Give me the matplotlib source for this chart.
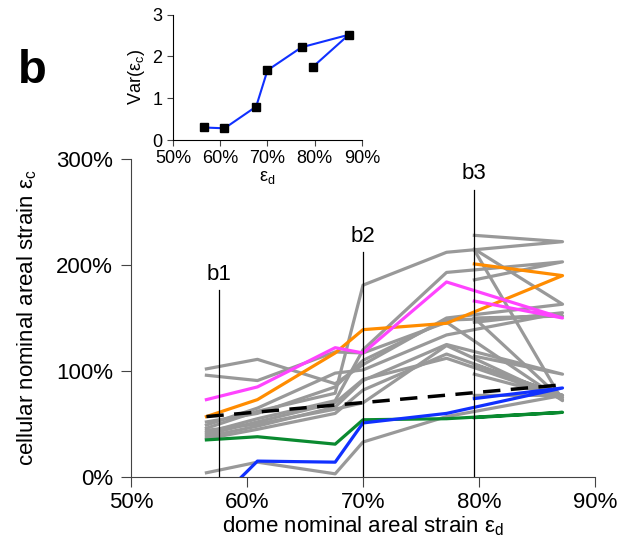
import numpy as np
import matplotlib
matplotlib.use('Agg')
import matplotlib.pyplot as plt

plt.rcParams['font.family'] = ['Liberation Sans', 'DejaVu Sans']
plt.rcParams['mathtext.default'] = 'regular'

# dome strain at each time point (in time order)
dome_strain = [56.5, 60.9, 67.6, 70.0, 77.2, 87.2, 79.6]

# cellular strain trajectories, % (nan = not tracked)
gray_cells = [
    [46, 62, 79, 181, 212, 222, 228],
    [42, 55, 72, 120, 193, 203, 186],
    [102, 111, 88, 106, 150, 163, 215],
    [96, 91, 118, 117, 146, 72, 214],
    [52, 60, 85, 110, 148, 152, 150],
    [49, 65, 98, 101, 134, 155, 146],
    [38, 48, 66, 91, 125, 97, 114],
    [36, 45, 60, 82, 116, 77, 106],
    [40, 52, 70, 92, 112, 75, 97],
    [4, 14, 3, 33, 57, 77, 77],
    [44, 50, 64, 70, 124, 73, 150],
]
orange_cell = [57, 73, 117, 139, 145, 190, 201]
pink_cell = [73, 85, 122, 117, 184, 150, 166]
green_cell = [35, 38, 31, 54, 55, 61, 56]
blue_cell = [-33, 15, 14, 51, 60, 84, 74]

fit_x = [56.5, 87.2]
fit_y = [57, 87]

marks = ['b1', 'b2', 'b3']
mark_x = [57.6, 70.0, 79.6]
mark_top = [176, 212, 271]

# variance of cellular strain
var_c = [0.30, 0.28, 0.80, 1.67, 2.22, 2.52, 1.75]

fig = plt.figure(figsize=(6.4, 5.51), dpi=100)
ax = fig.add_axes([0.2047, 0.1343, 0.725, 0.5771])

for ys in gray_cells:
    ax.plot(dome_strain, ys, color='#999999', lw=2.3, zorder=2)
ax.plot(dome_strain, orange_cell, color='#ff8c00', lw=2.3, zorder=3)
ax.plot(dome_strain, pink_cell, color='#ff44ff', lw=2.3, zorder=3)
ax.plot(dome_strain, green_cell, color='#0a8a30', lw=2.3, zorder=3)
ax.plot(dome_strain, blue_cell, color='#1030ff', lw=2.3, zorder=3)
ax.plot(fit_x, fit_y, color='black', lw=2.5, ls=(0, (5, 3)), zorder=4)

for name, mx, top in zip(marks, mark_x, mark_top):
    ax.plot([mx, mx], [0, top], color='black', lw=0.9, zorder=5)
    ax.annotate(name, (mx, top), xytext=(0, 4), textcoords='offset points',
                ha='center', va='bottom', fontsize=16)

ax.set_xlim(50, 90)
ax.set_ylim(0, 300)
ax.set_xticks([50, 60, 70, 80, 90])
ax.set_xticklabels(['50%', '60%', '70%', '80%', '90%'])
ax.set_yticks([0, 100, 200, 300])
ax.set_yticklabels(['0%', '100%', '200%', '300%'])
ax.tick_params(labelsize=16, length=7, color='#444444')
ax.tick_params(axis='y', pad=6)
for s in ['top', 'right']:
    ax.spines[s].set_visible(False)
for s in ['left', 'bottom']:
    ax.spines[s].set_color('#444444')
ax.set_xlabel('dome nominal areal strain ε$_d$', fontsize=16, labelpad=1)
ax.set_ylabel('cellular nominal areal strain ε$_c$', fontsize=16, labelpad=12)

# inset
ins = fig.add_axes([0.2703, 0.7459, 0.2953, 0.2274])
ins.plot(dome_strain, var_c, color='#1030ff', lw=1.5)
ins.plot(dome_strain, var_c, ls='none', marker='s', ms=6, color='black')
ins.set_xlim(50, 90)
ins.set_ylim(0, 3)
ins.set_xticks([50, 60, 70, 80, 90])
ins.set_xticklabels(['50%', '60%', '70%', '80%', '90%'])
ins.set_yticks([0, 1, 2, 3])
ins.tick_params(labelsize=13, length=4, color='#444444')
for s in ['top', 'right']:
    ins.spines[s].set_visible(False)
ins.set_xlabel('ε$_d$', fontsize=13, labelpad=1)
ins.set_ylabel('Var(ε$_c$)', fontsize=13, labelpad=4)

fig.text(0.028, 0.849, 'b', fontsize=34, fontweight='bold', va='baseline')

plt.savefig('out.png', dpi=100)
